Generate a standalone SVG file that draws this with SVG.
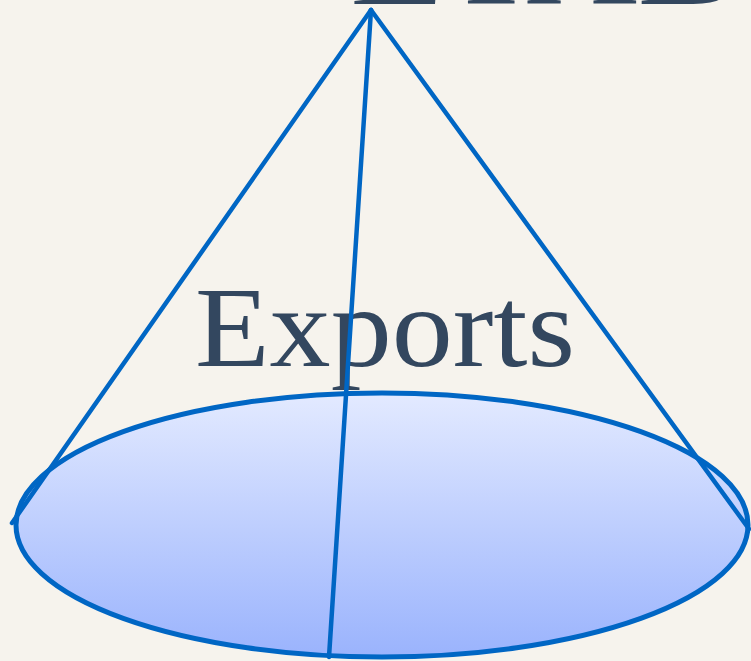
<svg xmlns="http://www.w3.org/2000/svg" width="751" height="661" viewBox="0 0 751 661">
<defs>
<linearGradient id="base" x1="0" y1="0" x2="0" y2="1">
<stop offset="0" stop-color="#e3eaff"/>
<stop offset="1" stop-color="#9ab3fd"/>
</linearGradient>
</defs>
<style>
.edge{stroke:#0066c4;stroke-width:4.5;fill:none;stroke-linecap:round}
.lbl{font-family:"Liberation Serif","DejaVu Serif",serif;fill:#33475f}
</style>
<rect width="751" height="661" fill="#f6f3ed"/>
<g id="title">
<text class="lbl" x="350" y="4" font-size="116" textLength="390" lengthAdjust="spacingAndGlyphs">ETAB</text>
</g>
<g id="base-ellipse">
<ellipse cx="382" cy="525" rx="366" ry="132" fill="url(#base)" stroke="#0066c4" stroke-width="5"/>
</g>
<g id="exports">
<text class="lbl" x="195" y="366" font-size="114" textLength="380" lengthAdjust="spacingAndGlyphs">Exports</text>
</g>
<g id="connectors">
<line class="edge" x1="371" y1="10" x2="12" y2="523"/>
<line class="edge" x1="371" y1="10" x2="749" y2="529"/>
<line class="edge" x1="371" y1="10" x2="329" y2="657"/>
</g>
</svg>
